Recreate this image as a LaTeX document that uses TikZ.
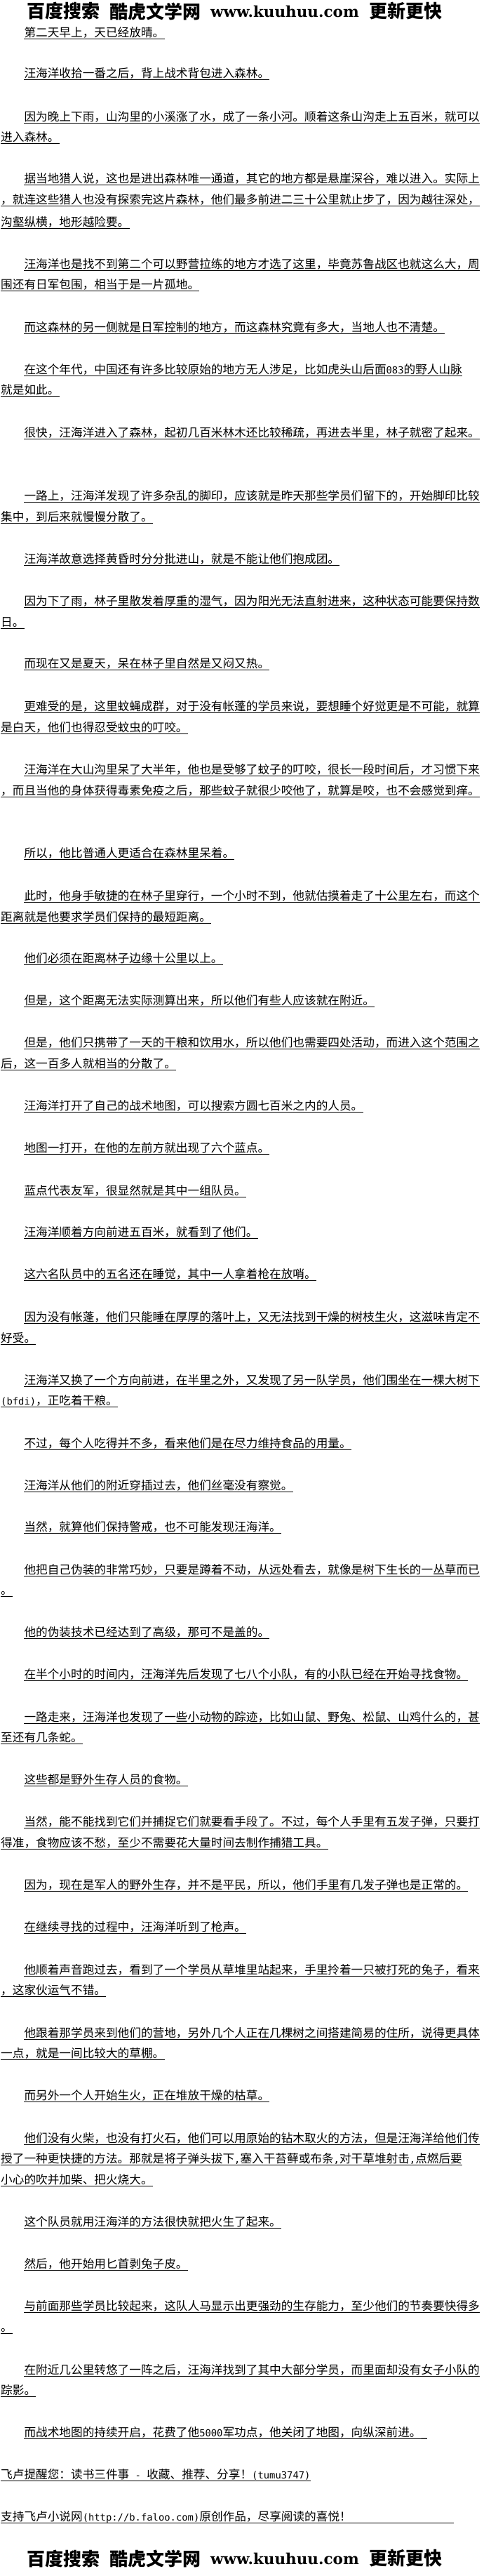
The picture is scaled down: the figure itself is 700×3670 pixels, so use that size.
\documentclass[tikz,border=0pt]{standalone}
\usepackage{fontspec}
\setmainfont{DejaVu Serif}
\newfontfamily\cjk{Noto Sans CJK SC}
\newfontfamily\ascfont{DejaVu Sans Mono}
\newfontfamily\urlfont{DejaVu Serif}

\begin{document}
\begin{tikzpicture}[x=1pt,y=-1pt,
  ln/.style={anchor=base west,inner sep=0pt,font=\cjk\fontsize{16.65}{20}\selectfont},
  ul/.style={line width=1pt},
  hd/.style={anchor=west,inner sep=0pt,font=\cjk\bfseries\fontsize{26}{28}\selectfont},
  hdurl/.style={anchor=west,inner sep=0pt,font=\urlfont\bfseries\fontsize{21.5}{24}\selectfont}]
  \def\hw#1{{\ascfont\fontsize{13.84}{20}\selectfont #1}}
  \fill[white] (0,0) rectangle (700,3670);
  \useasboundingbox (0,0) rectangle (700,3670);
  % banner, top and bottom
  \foreach \hy [count=\j] in {16,3645} {
    \node[hd] (bd\j) at (38,\hy) {百度搜索};
    \node[hd] (kh\j) at (156,\hy) {酷虎文学网};
    \node[hdurl] (url\j) at (300,\hy) {www.kuuhuu.com};
    \node[hd] (gx\j) at (526,\hy) {更新更快};
  }
  % lines: left edge / underline height / text
  \foreach \x/\y/\txt [count=\i] in {
    34.3/55/{第二天早上，天已经放晴。},
    34.3/113/{汪海洋收拾一番之后，背上战术背包进入森林。},
    34.3/175/{因为晚上下雨，山沟里的小溪涨了水，成了一条小河。顺着这条山沟走上五百米，就可以},
    1/204/{进入森林。},
    34.3/263/{据当地猎人说，这也是进出森林唯一通道，其它的地方都是悬崖深谷，难以进入。实际上},
    1/293/{，就连这些猎人也没有探索完这片森林，他们最多前进二三十公里就止步了，因为越往深处，},
    1/325/{沟壑纵横，地形越险要。},
    34.3/385/{汪海洋也是找不到第二个可以野营拉练的地方才选了这里，毕竟苏鲁战区也就这么大，周},
    1/414/{围还有日军包围，相当于是一片孤地。},
    34.3/475/{而这森林的另一侧就是日军控制的地方，而这森林究竟有多大，当地人也不清楚。},
    34.3/535/{在这个年代，中国还有许多比较原始的地方无人涉足，比如虎头山后面\hw{083}的野人山脉},
    1/564/{就是如此。},
    34.3/625/{很快，汪海洋进入了森林，起初几百米林木还比较稀疏，再进去半里，林子就密了起来。},
    34.3/715/{一路上，汪海洋发现了许多杂乱的脚印，应该就是昨天那些学员们留下的，开始脚印比较},
    1/745/{集中，到后来就慢慢分散了。},
    34.3/805/{汪海洋故意选择黄昏时分分批进山，就是不能让他们抱成团。},
    34.3/865/{因为下了雨，林子里散发着厚重的湿气，因为阳光无法直射进来，这种状态可能要保持数},
    1/895/{日。},
    34.3/954/{而现在又是夏天，呆在林子里自然是又闷又热。},
    34.3/1015/{更难受的是，这里蚊蝇成群，对于没有帐蓬的学员来说，要想睡个好觉更是不可能，就算},
    1/1045/{是白天，他们也得忍受蚊虫的叮咬。},
    34.3/1105/{汪海洋在大山沟里呆了大半年，他也是受够了蚊子的叮咬，很长一段时间后，才习惯下来},
    1/1135/{，而且当他的身体获得毒素免疫之后，那些蚊子就很少咬他了，就算是咬，也不会感觉到痒。},
    34.3/1224/{所以，他比普通人更适合在森林里呆着。},
    34.3/1285/{此时，他身手敏捷的在林子里穿行，一个小时不到，他就估摸着走了十公里左右，而这个},
    1/1315/{距离就是他要求学员们保持的最短距离。},
    34.3/1374/{他们必须在距离林子边缘十公里以上。},
    34.3/1434/{但是，这个距离无法实际测算出来，所以他们有些人应该就在附近。},
    34.3/1494/{但是，他们只携带了一天的干粮和饮用水，所以他们也需要四处活动，而进入这个范围之},
    1/1524/{后，这一百多人就相当的分散了。},
    34.3/1584/{汪海洋打开了自己的战术地图，可以搜索方圆七百米之内的人员。},
    34.3/1644/{地图一打开，在他的左前方就出现了六个蓝点。},
    34.3/1705/{蓝点代表友军，很显然就是其中一组队员。},
    34.3/1764/{汪海洋顺着方向前进五百米，就看到了他们。},
    34.3/1824/{这六名队员中的五名还在睡觉，其中一人拿着枪在放哨。},
    34.3/1885/{因为没有帐蓬，他们只能睡在厚厚的落叶上，又无法找到干燥的树枝生火，这滋味肯定不},
    1/1915/{好受。},
    34.3/1975/{汪海洋又换了一个方向前进，在半里之外，又发现了另一队学员，他们围坐在一棵大树下},
    1/2004/{\hw{(bfdi)}，正吃着干粮。\hspace{41pt}},
    34.3/2065/{不过，每个人吃得并不多，看来他们是在尽力维持食品的用量。},
    34.3/2125/{汪海洋从他们的附近穿插过去，他们丝毫没有察觉。},
    34.3/2184/{当然，就算他们保持警戒，也不可能发现汪海洋。},
    34.3/2245/{他把自己伪装的非常巧妙，只要是蹲着不动，从远处看去，就像是树下生长的一丛草而已},
    1/2274/{。},
    34.3/2334/{他的伪装技术已经达到了高级，那可不是盖的。},
    34.3/2394/{在半个小时的时间内，汪海洋先后发现了七八个小队，有的小队已经在开始寻找食物。},
    34.3/2455/{一路走来，汪海洋也发现了一些小动物的踪迹，比如山鼠、野兔、松鼠、山鸡什么的，甚},
    1/2484/{至还有几条蛇。},
    34.3/2544/{这些都是野外生存人员的食物。},
    34.3/2604/{当然，能不能找到它们并捕捉它们就要看手段了。不过，每个人手里有五发子弹，只要打},
    1/2634/{得准，食物应该不愁，至少不需要花大量时间去制作捕猎工具。},
    34.3/2694/{因为，现在是军人的野外生存，并不是平民，所以，他们手里有几发子弹也是正常的。},
    34.3/2754/{在继续寻找的过程中，汪海洋听到了枪声。},
    34.3/2815/{他顺着声音跑过去，看到了一个学员从草堆里站起来，手里拎着一只被打死的兔子，看来},
    1/2844/{，这家伙运气不错。},
    34.3/2905/{他跟着那学员来到他们的营地，另外几个人正在几棵树之间搭建简易的住所，说得更具体},
    1/2934/{一点，就是一间比较大的草棚。},
    34.3/2994/{而另外一个人开始生火，正在堆放干燥的枯草。},
    34.3/3055/{他们没有火柴，也没有打火石，他们可以用原始的钻木取火的方法，但是汪海洋给他们传},
    1/3084/{授了一种更快捷的方法。那就是将子弹头拔下\hw{,}塞入干苔藓或布条\hw{,}对干草堆射击\hw{,}点燃后要},
    1/3114/{小心的吹并加柴、把火烧大。},
    34.3/3174/{这个队员就用汪海洋的方法很快就把火生了起来。},
    34.3/3234/{然后，他开始用匕首剥兔子皮。},
    34.3/3294/{与前面那些学员比较起来，这队人马显示出更强劲的生存能力，至少他们的节奏要快得多},
    1/3324/{。},
    34.3/3385/{在附近几公里转悠了一阵之后，汪海洋找到了其中大部分学员，而里面却没有女子小队的},
    1/3414/{踪影。},
    34.3/3474/{而战术地图的持续开启，花费了他\hw{5000}军功点，他关闭了地图，向纵深前进。\hw{\_}\hspace{21pt}},
    1/3534/{飞卢提醒您：读书三件事\hw{ - }收藏、推荐、分享！\hw{(tumu3747)}\hspace{91pt}},
    1/3594/{支持飞卢小说网\hw{(http://b.faloo.com)}原创作品，尽享阅读的喜悦！\hspace{146pt}}
  }{
    \node[ln] (l\i) at (\x,{\y-2.5}) {\txt};
    \draw[ul] ([yshift=-2.5pt]l\i.base west) -- ([yshift=-2.5pt]l\i.base east);
  }
\end{tikzpicture}
\end{document}
